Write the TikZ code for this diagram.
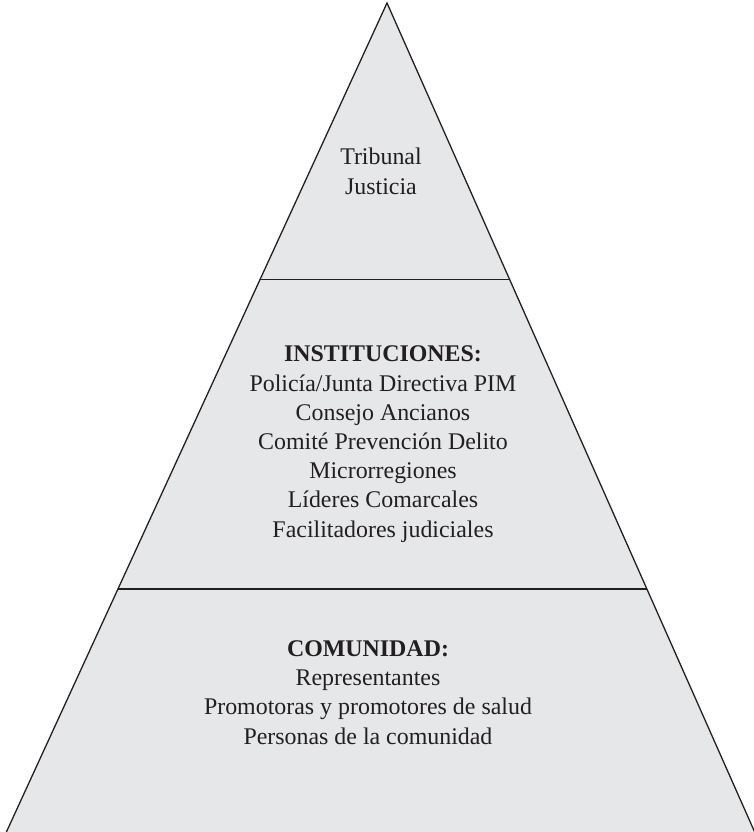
\documentclass[tikz,border=0pt]{standalone}
\usepackage{fontspec}
\setmainfont{Liberation Serif}
\usetikzlibrary{calc}
\definecolor{relleno}{HTML}{E6E7E8}
\definecolor{borde}{HTML}{231F20}
\tikzset{
  nivel/.style={fill=relleno,draw=none},
  lado/.style={borde,line width=1.1pt},
  corte/.style={borde,line width=1.1pt},
  texto/.style={borde,align=center,inner sep=0pt,anchor=base,
    font=\fontsize{20.4pt}{24.9pt}\selectfont},
}

\begin{document}
\begin{tikzpicture}[x=0.03cm,y=-0.03cm]
  \useasboundingbox (0,0) rectangle (754,832);
  \clip (0,0) rectangle (754,832);
  \coordinate (cima) at (387,3);
  \coordinate (bi) at (5,835);
  \coordinate (bd) at (756,835);
  \fill[nivel] (bi)--(cima)--(bd)--cycle;
  \draw[lado] (bi)--(cima)--(bd);
  % cortes entre los tres niveles
  \coordinate (c1i) at ($(cima)!0.3323!(bi)$);
  \coordinate (c1d) at ($(cima)!0.3323!(bd)$);
  \coordinate (c2i) at ($(cima)!0.7043!(bi)$);
  \coordinate (c2d) at ($(cima)!0.7043!(bd)$);
  \draw[corte] (c1i)--(c1d);
  \draw[corte] (c2i)--(c2d);
  % base = linea de abajo de cada bloque
  \node[texto] (tribunal) at (381,194) {Tribunal\\Justicia};
  \node[texto] (instituciones) at (383,537) {\textbf{INSTITUCIONES:}\\
    Policía/Junta Directiva PIM\\Consejo Ancianos\\Comité Prevención Delito\\
    Microrregiones\\Líderes Comarcales\\Facilitadores judiciales};
  \node[texto] (comunidad) at (368,744) {\textbf{COMUNIDAD:}\\
    Representantes\\Promotoras y promotores de salud\\Personas de la comunidad};
\end{tikzpicture}
\end{document}
